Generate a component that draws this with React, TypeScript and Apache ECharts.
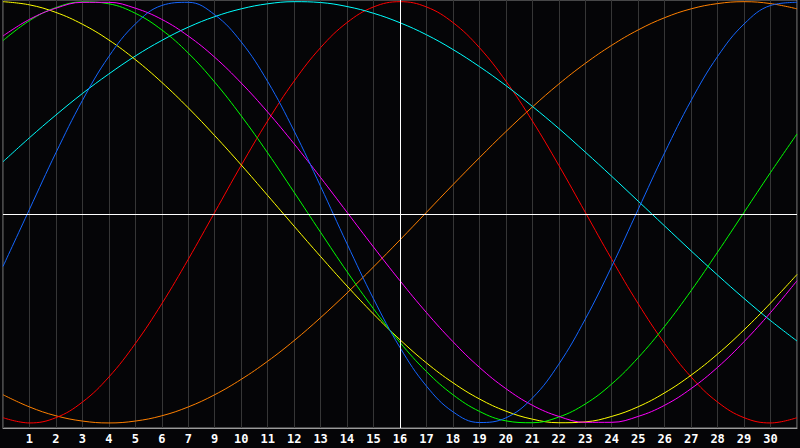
import React, { useEffect, useRef } from "react";
import * as echarts from "echarts";

const days = [0, 1, 2, 3, 4, 5, 6, 7, 8, 9, 10, 11, 12, 13, 14, 15, 16, 17, 18, 19, 20, 21, 22, 23, 24, 25, 26, 27, 28, 29, 30];
const dayLabels = ["", "1", "2", "3", "4", "5", "6", "7", "9", "10", "11", "12", "13", "14", "15", "16", "17", "18", "19", "20", "21", "22", "23", "24", "25", "26", "27", "28", "29", "30", ""];

const blueValues = [-25.7, 1.4, 28.3, 53.1, 74.0, 89.4, 98.2, 99.7, 93.8, 80.9, 62.1, 38.6, 12.3, -15.0, -41.1, -64.2, -82.5, -94.7, -99.8, -97.6, -88.2, -72.1, -50.7, -25.7, 1.4, 28.3, 53.1, 74.0, 89.4, 98.2, 99.7];
const redValues = [-97.5, -100, -97.5, -90.1, -78.2, -62.3, -43.4, -22.3, 0, 22.3, 43.4, 62.3, 78.2, 90.1, 97.5, 100, 97.5, 90.1, 78.2, 62.3, 43.4, 22.3, 0, -22.3, -43.4, -62.3, -78.2, -90.1, -97.5, -100, -97.5];
const greenValues = [81.5, 91.0, 97.2, 99.9, 99.0, 94.5, 86.6, 75.6, 61.8, 45.8, 28.2, 9.5, -9.5, -28.2, -45.8, -61.8, -75.6, -86.6, -94.5, -99.0, -99.9, -97.2, -91.0, -81.5, -69.0, -54.1, -37.2, -18.9, 0, 18.9, 37.2];
const magentaValues = [83.7, 91.6, 96.9, 99.7, 99.7, 96.9, 91.6, 83.7, 73.6, 61.4, 47.6, 32.5, 16.5, 0, -16.5, -32.5, -47.6, -61.4, -73.6, -83.7, -91.6, -96.9, -99.7, -99.7, -96.9, -91.6, -83.7, -73.6, -61.4, -47.6, -32.5];
const yellowValues = [100.0, 98.5, 94.9, 89.3, 81.8, 72.5, 61.7, 49.6, 36.4, 22.5, 8.0, -6.6, -21.0, -35.0, -48.3, -60.5, -71.5, -80.9, -88.6, -94.4, -98.2, -99.9, -99.5, -96.9, -92.3, -85.7, -77.3, -67.3, -55.8, -43.1, -29.5];
const orangeValues = [-86.6, -92.4, -96.6, -99.1, -100, -99.1, -96.6, -92.4, -86.6, -79.3, -70.7, -60.9, -50.0, -38.3, -25.9, -13.1, 0, 13.1, 25.9, 38.3, 50.0, 60.9, 70.7, 79.3, 86.6, 92.4, 96.6, 99.1, 100, 99.1, 96.6];
const cyanValues = [24.0, 35.4, 46.2, 56.4, 65.7, 74.2, 81.6, 87.9, 92.9, 96.6, 99.0, 100.0, 99.6, 97.7, 94.5, 90.0, 84.3, 77.3, 69.2, 60.2, 50.3, 39.8, 28.6, 17.1, 5.3, -6.5, -18.3, -29.8, -40.9, -51.4, -61.1];

const seriesDefs = [
  { name: "orange", color: "#ff8000", values: orangeValues },
  { name: "red", color: "#ff0000", values: redValues },
  { name: "cyan", color: "#00ffff", values: cyanValues },
  { name: "yellow", color: "#ffff00", values: yellowValues },
  { name: "green", color: "#00ff00", values: greenValues },
  { name: "magenta", color: "#ff00ff", values: magentaValues },
  { name: "blue", color: "#1466ff", values: blueValues },
];

const centerValue = -0.8;
const markedDay = 15;

export default function App() {
  const ref = useRef<HTMLDivElement>(null);

  useEffect(() => {
    document.body.style.margin = "0";
    document.body.style.background = "#050507";
    if (!ref.current) return;
    const chart = echarts.init(ref.current, undefined, { renderer: "svg" });

    const series: any[] = seriesDefs.map((s) => ({
      name: s.name,
      type: "line",
      smooth: 0.4,
      showSymbol: false,
      symbol: "none",
      silent: true,
      lineStyle: { color: s.color, width: 1 },
      itemStyle: { color: s.color },
      data: days.map((d, j) => [d, s.values[j]]),
      z: 3,
    }));

    series.push({
      name: "guides",
      type: "line",
      data: [],
      silent: true,
      markLine: {
        silent: true,
        symbol: "none",
        label: { show: false },
        lineStyle: { color: "#ffffff", width: 1, type: "solid" },
        data: [{ yAxis: centerValue }, { xAxis: markedDay }],
      },
      z: 2,
    });

    chart.setOption({
      animation: false,
      backgroundColor: "#050507",
      grid: {
        left: 0,
        right: 0,
        top: 0,
        bottom: 20,
        show: true,
        borderColor: "#8a8a8a",
        borderWidth: 1,
        backgroundColor: "transparent",
      },
      xAxis: {
        type: "value",
        min: 0,
        max: 30,
        interval: 1,
        axisLine: { show: true, onZero: false, lineStyle: { color: "#9a9a9a", width: 1 } },
        axisTick: { show: false },
        splitLine: { show: true, lineStyle: { color: "#363636", width: 1 } },
        axisLabel: {
          show: true,
          color: "#ffffff",
          fontWeight: "bold",
          fontSize: 12,
          fontFamily: "DejaVu Sans Mono",
          margin: 5,
          showMinLabel: true,
          showMaxLabel: true,
          formatter: (v: number) => dayLabels[Math.round(v)] ?? "",
        },
      },
      yAxis: {
        type: "value",
        min: -102.4,
        max: 100.8,
        show: true,
        axisLine: { show: false },
        axisTick: { show: false },
        axisLabel: { show: false },
        splitLine: { show: false },
      },
      series,
    });

    return () => chart.dispose();
  }, []);

  return (
    <div
      ref={ref}
      style={{ width: 800, height: 448, position: "fixed", left: 0, top: 0, background: "#050507" }}
    />
  );
}
